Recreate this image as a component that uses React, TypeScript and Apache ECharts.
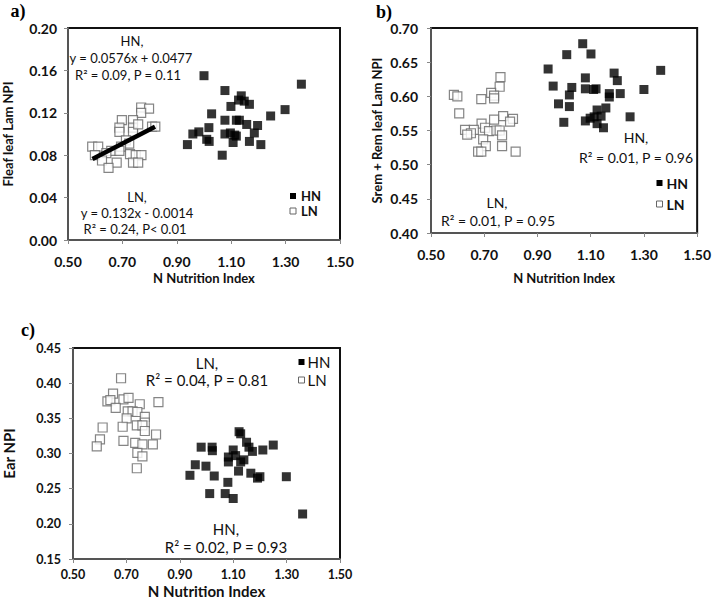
import React, { useEffect, useRef } from "react";
import * as echarts from "echarts";

// ---------- Panel a) Fleaf leaf Lam NPI ----------
const aHNx = [1.0, 1.077, 1.358, 1.137, 1.127, 1.148, 1.167, 1.099, 1.298, 1.028, 1.245, 1.077, 1.119, 1.13, 1.157, 1.197, 1.018, 0.981, 0.959, 1.077, 1.097, 1.113, 1.119, 1.185, 1.01, 1.019, 1.107, 1.167, 1.209, 0.939, 1.067];
const aHNy = [0.155, 0.141, 0.147, 0.136, 0.132, 0.131, 0.128, 0.126, 0.123, 0.119, 0.117, 0.113, 0.113, 0.113, 0.109, 0.108, 0.106, 0.102, 0.1, 0.1, 0.101, 0.099, 0.098, 0.101, 0.095, 0.093, 0.092, 0.093, 0.09, 0.09, 0.08];
const aLNx = [0.769, 0.798, 0.769, 0.698, 0.739, 0.689, 0.739, 0.689, 0.739, 0.758, 0.809, 0.821, 0.713, 0.725, 0.589, 0.611, 0.695, 0.659, 0.689, 0.599, 0.641, 0.728, 0.749, 0.77, 0.625, 0.679, 0.739, 0.758, 0.649];
const aLNy = [0.125, 0.124, 0.12, 0.113, 0.113, 0.106, 0.106, 0.102, 0.102, 0.109, 0.107, 0.107, 0.094, 0.091, 0.088, 0.088, 0.088, 0.084, 0.084, 0.08, 0.082, 0.081, 0.08, 0.08, 0.075, 0.073, 0.073, 0.073, 0.068];
// LN fit: y = 0.132x - 0.0014, drawn over the LN range
const aLNFitSlope = 0.132;
const aLNFitIntercept = -0.0014;
const aLNFitX = [0.59, 0.82];

// ---------- Panel b) Srem + Rem leaf Lam NPI ----------
const bHNx = [1.07, 1.01, 1.101, 0.94, 1.363, 1.188, 1.08, 1.2, 0.959, 1.029, 1.08, 1.12, 1.111, 1.3, 1.02, 1.17, 1.211, 1.17, 0.979, 1.02, 1.157, 1.124, 1.248, 1.139, 1.113, 1.098, 1.08, 0.999, 1.124, 1.148];
const bHNy = [0.677, 0.661, 0.662, 0.64, 0.638, 0.634, 0.627, 0.623, 0.615, 0.613, 0.611, 0.611, 0.61, 0.61, 0.602, 0.604, 0.604, 0.599, 0.589, 0.585, 0.583, 0.58, 0.57, 0.571, 0.57, 0.568, 0.564, 0.562, 0.56, 0.554];
const bLNx = [0.761, 0.758, 0.726, 0.737, 0.586, 0.599, 0.689, 0.737, 0.606, 0.771, 0.808, 0.797, 0.737, 0.69, 0.628, 0.661, 0.703, 0.718, 0.746, 0.758, 0.65, 0.636, 0.767, 0.696, 0.706, 0.767, 0.677, 0.689, 0.818];
const bLNy = [0.628, 0.614, 0.605, 0.601, 0.602, 0.6, 0.596, 0.597, 0.575, 0.571, 0.567, 0.563, 0.566, 0.56, 0.551, 0.551, 0.554, 0.549, 0.55, 0.55, 0.546, 0.544, 0.543, 0.537, 0.527, 0.527, 0.519, 0.519, 0.519];

// ---------- Panel c) Ear NPI ----------
const cHNx = [1.122, 1.128, 1.25, 1.15, 1.159, 1.172, 1.211, 0.98, 1.021, 1.022, 1.1, 1.109, 1.082, 1.082, 1.14, 1.128, 0.958, 0.998, 0.938, 1.029, 1.12, 1.166, 1.191, 1.2, 1.299, 1.08, 1.012, 1.07, 1.1, 1.36];
const cHNy = [0.331, 0.328, 0.312, 0.316, 0.309, 0.303, 0.305, 0.309, 0.309, 0.304, 0.305, 0.297, 0.295, 0.288, 0.291, 0.288, 0.284, 0.282, 0.269, 0.268, 0.275, 0.272, 0.265, 0.267, 0.267, 0.259, 0.243, 0.243, 0.236, 0.214];
const cLNx = [0.68, 0.65, 0.629, 0.64, 0.689, 0.708, 0.75, 0.82, 0.66, 0.705, 0.723, 0.741, 0.701, 0.769, 0.769, 0.739, 0.76, 0.611, 0.686, 0.769, 0.811, 0.601, 0.689, 0.733, 0.76, 0.799, 0.589, 0.741, 0.76, 0.739];
const cLNy = [0.407, 0.385, 0.374, 0.376, 0.377, 0.379, 0.37, 0.373, 0.365, 0.36, 0.36, 0.359, 0.35, 0.352, 0.344, 0.34, 0.34, 0.337, 0.338, 0.332, 0.327, 0.32, 0.318, 0.315, 0.313, 0.313, 0.31, 0.301, 0.296, 0.279];

const xTitle = "N Nutrition Index";
const yTitles = ["Fleaf leaf Lam NPI", "Srem + Rem leaf Lam NPI", "Ear NPI"];
const legendNames = ["HN", "LN"];

const FONT = "Lato, 'Open Sans', sans-serif";
const zip = (xs: number[], ys: number[]) => xs.map((x, i) => [x, ys[i]]);

export default function App() {
  const ref = useRef<HTMLDivElement>(null);
  useEffect(() => {
    if (!ref.current) return;
    const chart = echarts.init(ref.current, null, { renderer: "svg" });

    const grids = [
      { left: 63, top: 28, width: 277, height: 212 },
      { left: 431, top: 28, width: 267, height: 205 },
      { left: 66, top: 348, width: 274, height: 211 },
    ].map((g) => ({ ...g, show: true, borderColor: "#111", borderWidth: 2, backgroundColor: "transparent" }));

    const tickSize = [14, 14, 12.5];
    const titleSize = [13, 13, 15];
    const xLabelMargin = [14, 14, 9];
    const xNameGap = [31, 38, 24];
    const yNameGap = [54, 48, 57];
    const yLabelMargin = [11, 13, 12];
    const yRanges = [
      [0, 0.2, 0.04],
      [0.4, 0.7, 0.05],
      [0.15, 0.45, 0.05],
    ];

    const axisLine = { show: true, onZero: false, lineStyle: { color: "#555", width: 2 } };
    const axisTick = { show: true, inside: false, length: 4, lineStyle: { color: "#888" } };

    const xAxis = [0, 1, 2].map((i) => ({
      type: "value",
      gridIndex: i,
      min: 0.5,
      max: 1.5,
      interval: 0.2,
      splitLine: { show: false },
      axisLine,
      axisTick,
      axisLabel: {
        margin: xLabelMargin[i],
        formatter: (v: number) => v.toFixed(2),
        fontFamily: FONT,
        fontWeight: "bold",
        fontSize: tickSize[i],
        color: "#111",
      },
      name: xTitle,
      nameLocation: "middle",
      nameGap: xNameGap[i],
      nameTextStyle: { fontFamily: FONT, fontWeight: "bold", fontSize: titleSize[i], color: "#111" },
    }));

    const yAxis = [0, 1, 2].map((i) => ({
      type: "value",
      gridIndex: i,
      min: yRanges[i][0],
      max: yRanges[i][1],
      interval: yRanges[i][2],
      splitLine: { show: false },
      axisLine,
      axisTick,
      axisLabel: {
        margin: yLabelMargin[i],
        formatter: (v: number) => v.toFixed(2),
        fontFamily: FONT,
        fontWeight: "bold",
        fontSize: tickSize[i],
        color: "#111",
      },
      name: yTitles[i],
      nameLocation: "middle",
      nameGap: yNameGap[i],
      nameRotate: 90,
      nameTextStyle: { fontFamily: FONT, fontWeight: "bold", fontSize: titleSize[i], color: "#111" },
    }));

    const hnStyle = { color: "#000", borderColor: "#000", borderWidth: 0 };
    const lnStyle = { color: "#fff", borderColor: "#666", borderWidth: 1.2 };
    const panels = [
      [aHNx, aHNy, aLNx, aLNy],
      [bHNx, bHNy, bLNx, bLNy],
      [cHNx, cHNy, cLNx, cLNy],
    ];
    const series: any[] = [];
    panels.forEach((p, i) => {
      series.push({
        type: "scatter", name: "LN", xAxisIndex: i, yAxisIndex: i,
        symbol: "rect", symbolSize: 9, itemStyle: lnStyle, data: zip(p[2], p[3]), z: 2,
      });
      series.push({
        type: "scatter", name: "HN", xAxisIndex: i, yAxisIndex: i,
        symbol: "rect", symbolSize: 9, itemStyle: hnStyle, data: zip(p[0], p[1]), z: 3,
      });
    });
    series.push({
      type: "line", name: "LN fit", xAxisIndex: 0, yAxisIndex: 0, showSymbol: false, symbol: "none",
      lineStyle: { color: "#000", width: 4.5 }, z: 4,
      data: aLNFitX.map((x) => [x, aLNFitSlope * x + aLNFitIntercept]),
    });

    const t = (text: string, x: number, y: number, size: number, extra: any = {}) => ({
      type: "text",
      x,
      y,
      style: { text, textAlign: "center", textVerticalAlign: "middle", font: `${size}px ${FONT}`, fill: "#111", ...extra },
    });
    const serif = (text: string, x: number, y: number) => ({
      type: "text", x, y,
      style: { text, textAlign: "center", textVerticalAlign: "middle", font: "bold 18px 'Liberation Serif', serif", fill: "#000" },
    });

    // legend boxes: [markerCenterX, textX, firstRowY, rowGap, fontSize, bold]
    const legendPos: [number, number, number, number, number, boolean][] = [
      [293, 301, 196, 15, 13, true],
      [659.5, 666.5, 183, 21, 14, true],
      [301.5, 307.5, 362, 18, 15, false],
    ];
    const legendGraphics: any[] = [];
    legendPos.forEach(([mx, tx, my, gap, fs, bold]) => {
      legendNames.forEach((name, k) => {
        const y = my + k * gap;
        const isHN = name === "HN";
        legendGraphics.push({
          type: "rect",
          shape: { x: mx - 3, y: y - 3, width: 6, height: 6 },
          style: isHN ? { fill: "#000" } : { fill: "#fff", stroke: "#666", lineWidth: 1 },
        });
        legendGraphics.push({
          type: "text", x: tx, y,
          style: { text: name, textAlign: "left", textVerticalAlign: "middle", font: `${bold ? "bold " : ""}${fs}px ${FONT}`, fill: "#111" },
        });
      });
    });

    const graphic = [
      serif("a)", 18, 11),
      serif("b)", 384, 12),
      serif("c)", 28, 330),
      t("HN,", 132, 41, 13),
      t("y = 0.0576x + 0.0477", 131, 58, 13),
      t("R² = 0.09, P = 0.11", 128, 75, 13),
      t("LN,", 137, 197, 13),
      t("y = 0.132x - 0.0014", 137, 213, 13),
      t("R² = 0.24, P< 0.01", 135, 229, 13),
      t("HN,", 636, 137, 14),
      t("R² = 0.01, P = 0.96", 636, 157, 14),
      t("LN,", 497, 202, 14),
      t("R² = 0.01, P = 0.95", 498, 220, 14),
      t("LN,", 207, 363, 15),
      t("R² = 0.04, P = 0.81", 207, 380, 15),
      t("HN,", 226, 529, 15),
      t("R² = 0.02, P = 0.93", 226, 547, 15),
      ...legendGraphics,
    ];

    chart.setOption({
      animation: false,
      backgroundColor: "#fff",
      grid: grids,
      xAxis,
      yAxis,
      series,
      graphic,
    });
    return () => chart.dispose();
  }, []);
  return <div ref={ref} style={{ width: 714, height: 603, position: "absolute", left: 0, top: 0 }} />;
}
